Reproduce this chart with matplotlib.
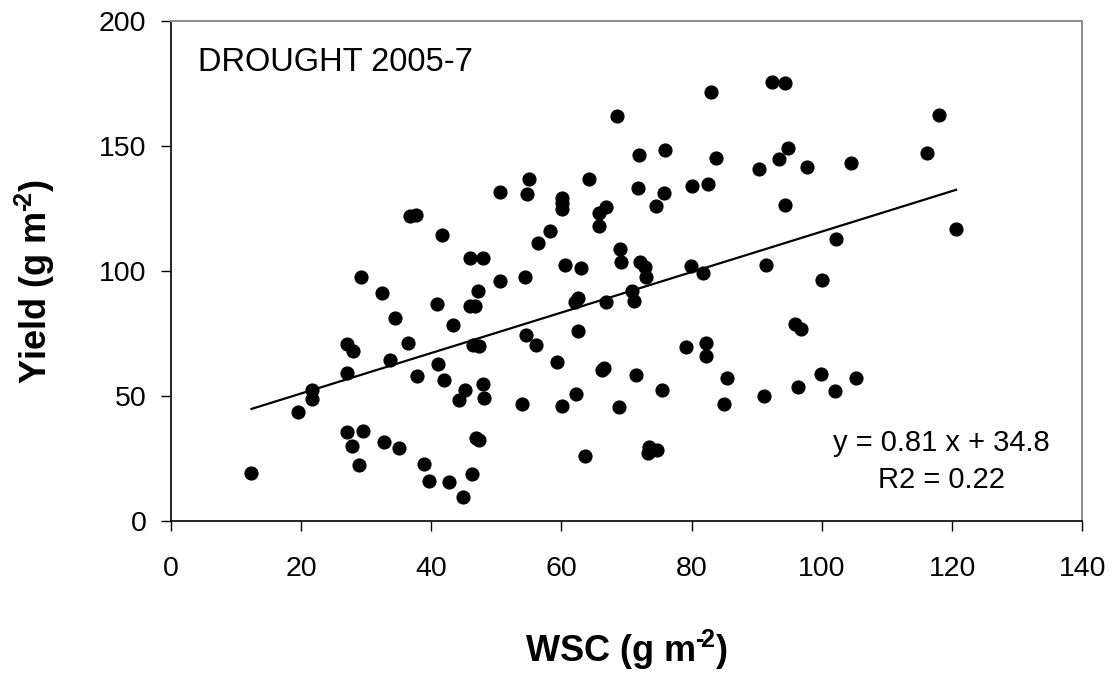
import matplotlib
matplotlib.use("Agg")
import matplotlib.pyplot as plt
import numpy as np

# WSC (g m-2) and yield (g m-2), drought plots 2005-7
wsc = [
    12.4, 19.6, 21.7, 21.7, 27.1, 28.0, 27.1, 27.1, 29.6, 27.9,
    28.9, 29.3, 32.5, 32.7, 33.7, 34.5, 35.0, 36.5, 36.8, 37.7,
    37.9, 38.9, 39.7, 40.9, 41.1, 41.7, 41.9, 42.8, 43.4, 44.2,
    44.9, 45.2, 45.9, 48.0, 45.9, 46.8, 47.2, 46.5, 47.4, 47.9,
    48.1, 46.9, 47.4, 46.3, 50.5, 54.4, 50.5, 55.1, 54.7, 54.6,
    56.1, 53.9, 56.4, 58.3, 59.4, 60.1, 60.1, 60.1, 60.1, 60.6,
    63.0, 62.1, 62.6, 62.6, 62.3, 63.7, 64.3, 65.8, 66.9, 65.8,
    66.8, 66.2, 66.6, 68.6, 69.0, 69.1, 68.8, 70.9, 71.2, 71.4,
    71.9, 71.8, 72.1, 72.9, 73.0, 73.4, 73.3, 74.7, 74.5, 75.9,
    75.7, 75.5, 79.1, 79.9, 80.1, 81.7, 82.2, 82.2, 82.5, 82.9,
    83.7, 84.9, 85.4, 90.3, 91.1, 91.4, 92.4, 94.4, 93.4, 94.8,
    94.4, 95.8, 96.8, 96.4, 97.7, 99.9, 100.0, 102.0, 102.2, 104.4,
    105.2, 116.1, 118.0, 120.6,
]
yld = [
    19.2, 43.6, 52.5, 48.7, 70.7, 68.1, 59.3, 35.5, 35.9, 30.0,
    22.3, 97.5, 91.3, 31.7, 64.5, 81.2, 29.3, 71.1, 121.9, 122.3,
    57.9, 22.8, 16.1, 86.8, 62.9, 114.3, 56.4, 15.7, 78.3, 48.3,
    9.5, 52.3, 105.2, 105.2, 85.9, 85.9, 91.9, 70.5, 70.0, 54.8,
    49.3, 33.1, 32.4, 18.7, 96.0, 97.6, 131.6, 136.7, 130.7, 74.5,
    70.5, 46.7, 111.3, 115.9, 63.5, 46.1, 129.3, 127.1, 124.8, 102.5,
    101.1, 87.7, 89.1, 76.1, 50.7, 25.9, 136.7, 123.1, 125.5, 118.0,
    87.7, 60.5, 61.1, 162.0, 108.7, 103.7, 45.7, 92.1, 88.1, 58.4,
    146.4, 133.1, 103.7, 101.5, 97.7, 29.5, 27.3, 28.3, 126.0, 148.4,
    131.1, 52.3, 69.5, 102.0, 134.1, 99.1, 71.1, 65.9, 134.7, 171.7,
    145.3, 46.7, 57.3, 140.7, 50.1, 102.4, 175.7, 175.3, 144.8, 149.3,
    126.4, 78.7, 76.7, 53.7, 141.7, 58.7, 96.4, 52.1, 112.8, 143.2,
    57.3, 147.3, 162.5, 116.8,
]

slope = 0.81
intercept = 34.8
eq_text = "y = 0.81 x + 34.8"
r2_text = "R2 = 0.22"
panel_label = "DROUGHT 2005-7"

x_ticks = [0, 20, 40, 60, 80, 100, 120, 140]
y_ticks = [0, 50, 100, 150, 200]

plt.rcParams["font.family"] = ["Liberation Sans", "DejaVu Sans"]
plt.rcParams["mathtext.fontset"] = "custom"
plt.rcParams["mathtext.bf"] = "Liberation Sans:bold"
plt.rcParams["mathtext.rm"] = "Liberation Sans"
plt.rcParams["mathtext.default"] = "bf"

fig = plt.figure(figsize=(11.15, 6.75), dpi=100)
ax = fig.add_axes([0.1531, 0.2281, 0.8176, 0.7407])

ax.plot(wsc, yld, "o", color="black", markersize=9.2, linestyle="none")

xs = np.array([min(wsc), max(wsc)])
ax.plot(xs, slope * xs + intercept, color="black", lw=1.6)

ax.set_xlim(0, 140)
ax.set_ylim(0, 200)
ax.set_xticks(x_ticks)
ax.set_yticks(y_ticks)
ax.tick_params(axis="both", direction="out", length=7.5, width=1.0,
               labelsize=20.5, colors="black")
ax.tick_params(axis="x", pad=18)
ax.tick_params(axis="y", pad=10)

for side in ["left", "bottom"]:
    ax.spines[side].set_color("black")
    ax.spines[side].set_linewidth(1.2)
for side in ["top", "right"]:
    ax.spines[side].set_color("#8c8c8c")
    ax.spines[side].set_linewidth(1.4)

# hyphen (not minus) in the exponent, like the original
sup = "$^{\u2010\\!2}$"
ax.set_xlabel("WSC (g m" + sup + ")", fontsize=26, fontweight="bold")
ax.set_ylabel("Yield (g m" + sup + ")", fontsize=26, fontweight="bold")
ax.xaxis.set_label_coords(0.5, -0.258)
ax.xaxis.label.set_verticalalignment("center")
ax.yaxis.set_label_coords(-0.149, 0.478)
ax.yaxis.label.set_verticalalignment("center")

ax.text(0.030, 0.918, panel_label, transform=ax.transAxes, fontsize=23.5,
        ha="left", va="center")
ax.text(118.3, 31.2, eq_text, fontsize=21, ha="center", va="center")
ax.text(118.3, 16.4, r2_text, fontsize=21, ha="center", va="center")

fig.savefig("out.png", dpi=100)
